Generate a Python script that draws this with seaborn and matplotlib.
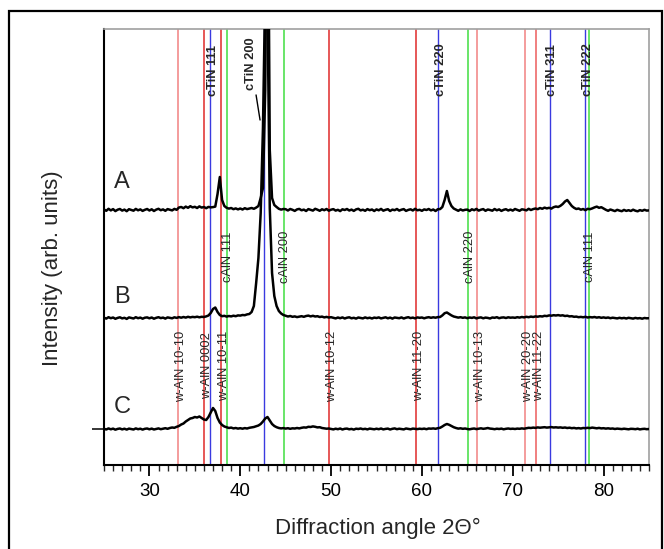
import numpy as np
import pandas as pd
import matplotlib
matplotlib.use("Agg")
import matplotlib.pyplot as plt
from matplotlib.patches import Rectangle
import seaborn as sns

# ---------------- data ----------------
angle_start, angle_stop, n_points = 25.0, 85.0, 241   # 0.25 deg steps

intensity_A = [
    0.5,-0.8,1.2,-0.4,0.9,-1.1,0.3,1.0,-0.6,0.4,-1.2,0.8,0.1,-0.7,1.1,-0.3,0.6,-0.9,0.2,1.0,
    -0.5,0.7,-1.0,0.4,1.2,-0.2,0.6,-0.8,0.9,0.3,-0.4,1.1,0.2,2.5,3.0,1.8,3.4,2.2,3.8,2.6,
    3.2,2.0,3.6,2.4,3.0,1.8,3.1,2.6,2.9,3.4,16.0,33.0,10.0,4.0,2.2,1.4,2.0,0.8,1.6,0.6,
    1.5,0.5,1.8,0.9,1.4,2.0,1.2,2.4,4.0,12.0,22.0,120.0,420.0,60.0,12.0,5.0,3.0,1.2,0.4,1.0,
    0.8,-0.5,1.0,0.2,-0.9,0.6,1.1,-0.3,0.4,-1.0,0.9,0.1,-0.6,1.2,0.3,-0.8,0.7,-0.2,1.0,-0.7,
    0.3,0.9,-0.6,0.2,-1.1,0.7,0.0,1.0,-0.5,0.4,-0.9,0.6,1.2,-0.4,0.3,-0.8,0.9,-0.2,0.5,-1.0,
    0.6,-0.3,1.1,-0.7,0.2,0.8,-1.0,0.4,-0.2,1.0,-0.6,0.3,0.9,-0.9,0.1,0.7,-0.5,1.2,-0.3,0.2,
    -0.8,0.6,0.0,1.0,-0.4,0.5,-1.0,0.8,0.9,3.0,10.0,19.0,9.0,4.0,1.5,0.3,-0.8,0.6,-0.5,0.2,
    0.4,-1.0,0.7,-0.2,1.1,-0.6,0.3,0.9,-0.8,0.5,0.0,-0.7,1.0,-0.3,0.6,-0.9,0.2,0.8,-0.5,0.4,
    -0.6,1.0,0.1,-0.8,0.7,0.3,-0.4,1.2,0.0,0.9,1.5,0.8,2.0,1.2,2.4,1.6,2.2,1.4,2.8,3.5,
    3.0,4.2,6.0,8.5,10.0,7.0,4.0,2.2,1.0,1.5,0.3,1.0,-0.2,1.2,0.8,1.6,2.6,3.4,2.2,2.8,
    1.5,0.2,-0.8,0.5,-0.3,-1.1,0.2,-0.6,-1.2,0.1,-0.9,-0.2,-1.0,0.3,-0.7,-1.3,-0.1,-0.8,0.2,-0.6,
    -0.4,
]

intensity_B = [
    0.3,-0.6,0.8,-0.2,0.5,-0.8,0.1,0.7,-0.4,0.2,-0.9,0.6,0.0,-0.5,0.8,-0.2,0.4,-0.7,0.3,0.6,
    -0.3,0.5,-0.7,0.2,0.8,-0.1,0.4,-0.6,0.6,0.2,-0.3,0.7,0.1,0.9,0.3,1.0,0.4,1.2,0.6,1.1,
    0.8,1.3,0.7,1.2,1.0,1.6,2.5,5.0,9.0,10.5,6.0,3.0,1.8,2.2,1.4,2.0,1.6,2.3,1.8,2.6,
    2.4,3.0,2.8,3.6,4.0,6.0,12.0,35.0,60.0,105.0,190.0,330.0,310.0,110.0,45.0,22.0,12.0,7.0,4.5,3.0,
    2.2,1.5,2.0,1.2,1.6,0.9,1.4,1.8,1.2,2.0,2.4,1.6,2.2,1.5,1.8,1.0,1.4,0.6,1.1,0.5,
    0.8,0.2,-0.4,0.5,-0.2,0.6,-0.5,0.3,0.7,-0.3,0.2,-0.6,0.5,0.1,-0.4,0.6,-0.2,0.3,-0.5,0.4,
    0.0,0.6,-0.4,0.2,0.7,-0.3,0.4,-0.6,0.5,0.1,-0.2,0.6,-0.5,0.3,0.8,-0.1,0.4,-0.4,0.6,0.2,
    0.5,-0.3,0.4,0.8,0.2,0.7,0.3,0.9,1.0,2.6,4.8,5.5,4.0,2.6,1.5,1.0,0.4,0.8,0.2,0.6,
    -0.2,0.5,0.1,0.7,-0.4,0.3,0.6,-0.3,0.4,0.1,-0.5,0.5,0.2,0.8,-0.2,0.4,0.6,0.0,0.7,0.3,
    0.5,0.2,0.8,0.4,1.0,0.6,1.2,0.8,1.4,1.0,1.6,1.3,1.8,1.5,2.2,1.9,2.6,2.3,2.8,2.5,
    2.9,2.4,2.7,2.0,2.3,1.6,1.8,1.2,1.4,0.8,1.1,0.7,1.2,0.5,0.9,0.6,1.0,0.4,0.8,0.2,
    0.6,0.1,0.5,-0.2,0.3,0.0,-0.4,0.2,-0.3,0.1,-0.5,0.2,-0.2,-0.6,0.1,-0.4,-0.1,-0.7,0.0,-0.3,
    -0.2,
]

intensity_C = [
    0.2,-0.5,0.6,-0.3,0.4,-0.7,0.1,0.5,-0.4,0.3,-0.6,0.4,0.0,-0.5,0.6,-0.2,0.3,-0.6,0.2,0.5,
    -0.3,0.4,-0.5,0.1,0.6,-0.2,0.3,0.8,0.2,1.0,1.5,1.2,2.2,3.0,4.5,5.5,7.5,9.0,10.5,11.0,
    12.0,11.5,12.5,11.0,9.5,9.0,12.0,16.5,21.0,18.0,11.0,6.5,4.0,2.5,1.8,1.0,1.4,0.6,1.0,0.4,
    0.8,0.3,0.9,0.5,1.2,1.6,2.0,2.8,3.5,5.0,7.5,10.5,12.0,8.5,5.0,3.0,1.8,1.0,0.6,0.9,
    0.4,0.8,0.2,0.7,0.5,1.0,0.6,1.2,1.6,1.4,2.2,2.0,2.6,2.2,1.6,1.8,1.0,0.6,0.3,0.5,
    0.0,-0.4,0.3,-0.2,0.5,-0.5,0.2,0.4,-0.3,0.1,-0.6,0.3,0.0,0.5,-0.2,0.2,-0.4,0.4,0.1,-0.3,
    0.3,-0.2,0.5,-0.4,0.1,0.4,-0.5,0.2,0.6,-0.2,0.3,0.0,-0.4,0.5,0.1,-0.3,0.4,0.2,-0.1,0.3,
    0.0,0.4,-0.2,0.5,0.3,0.6,0.2,0.8,1.2,2.5,4.0,5.0,4.2,3.0,1.8,1.0,0.4,0.7,0.2,0.5,
    0.0,-0.3,0.2,0.5,-0.1,0.3,0.7,0.2,0.5,1.0,0.4,0.2,-0.2,0.3,0.0,0.4,-0.3,0.2,0.5,0.1,
    0.3,0.0,0.4,0.2,0.6,0.3,0.8,1.2,1.0,1.4,1.1,1.6,1.3,1.5,1.8,1.4,1.6,1.9,1.5,1.7,
    1.4,1.6,1.2,1.5,1.0,1.3,0.8,1.1,0.6,0.9,0.5,1.0,0.8,1.2,0.9,1.4,1.0,0.7,1.1,0.6,
    0.8,0.4,0.7,0.3,0.5,0.0,0.4,0.2,-0.1,0.3,0.0,-0.3,0.2,0.1,-0.2,0.3,-0.4,0.0,0.2,-0.2,
    0.0,
]

samples = ["A", "B", "C"]

wAlN_pos = [33.2, 36.04, 37.92, 49.8, 59.35, 66.05, 71.4, 72.6]
wAlN_labels = ["w-AlN 10-10", "w-AlN 0002", "w-AlN 10-11", "w-AlN 10-12",
               "w-AlN 11-20", "w-AlN 10-13", "w-AlN 20-20", "w-AlN 11-22"]
cTiN_pos = [36.66, 42.6, 61.8, 74.07, 77.96]
cTiN_labels = ["cTiN 111", "cTiN 200", "cTiN 220", "cTiN 311", "cTiN 222"]
cAlN_pos = [38.5, 44.8, 65.1, 78.4]
cAlN_labels = ["cAlN 111", "cAlN 200", "cAlN 220", "cAlN 111"]

# ---------------- styling / layout ----------------
offsets = {"A": 255, "B": 147, "C": 36}
wAlN_colors = ["#f28b8b", "#e23b3b", "#e23b3b", "#e23b3b",
               "#e23b3b", "#f28b8b", "#f28b8b", "#ee6a6a"]
blue = "#3a3ae0"
green = "#4fe04f"

for arr in (intensity_A, intensity_B, intensity_C):
    assert len(arr) == n_points

angles = np.linspace(angle_start, angle_stop, n_points)
frames = []
for name, vals in zip(samples, [intensity_A, intensity_B, intensity_C]):
    frames.append(pd.DataFrame({"angle": angles,
                                "intensity": np.array(vals) + offsets[name],
                                "sample": name}))
df = pd.concat(frames, ignore_index=True)

sns.set_theme(style="white")
plt.rcParams["font.family"] = ["Liberation Sans", "DejaVu Sans"]

fig = plt.figure(figsize=(6.64, 5.49), dpi=100)
ax = fig.add_axes([104/664, 1-465/549, (649-104)/664, (465-29)/549])

# reference lines
for p, c in zip(wAlN_pos, wAlN_colors):
    ax.axvline(p, color=c, lw=1.2, zorder=1)
for p in cTiN_pos:
    ax.axvline(p, color=blue, lw=1.0, zorder=1)
for p in cAlN_pos:
    ax.axvline(p, color=green, lw=1.2, zorder=1)

sns.lineplot(data=df, x="angle", y="intensity", units="sample", estimator=None,
             color="black", lw=1.8, ax=ax, zorder=3, sort=False)

ax.set_xlim(25, 85)
ax.set_ylim(0, 436)

# labels on lines
lab_fs = 9.3
for p, t in zip(cTiN_pos, cTiN_labels):
    if t == "cTiN 200":
        ax.annotate(t, xy=(p - 0.42, 345), xytext=(p - 1.4, 401),
                    rotation=90, ha="center", va="center", fontsize=lab_fs,
                    fontweight="bold", zorder=5,
                    arrowprops=dict(arrowstyle="-", color="black", lw=1.0,
                                    shrinkA=1, shrinkB=0))
    else:
        ax.text(p + 0.3, 395, t, rotation=90, ha="center", va="center",
                fontsize=lab_fs, fontweight="bold", zorder=5)
for p, t in zip(cAlN_pos, cAlN_labels):
    ax.text(p + 0.15, 208, t, rotation=90, ha="center", va="center",
            fontsize=lab_fs, zorder=5)
for p, t in zip(wAlN_pos, wAlN_labels):
    ax.text(p + 0.3, 99, t, rotation=90, ha="center", va="center",
            fontsize=lab_fs, zorder=5)

# sample letters
letter_y = {"A": 283, "B": 168, "C": 58}
for s in samples:
    ax.text(27.0, letter_y[s], s, ha="center", va="center", fontsize=17)

# axes styling
ax.set_xticks([30, 40, 50, 60, 70, 80])
ax.set_xticks(np.arange(25, 86, 1), minor=True)
ax.set_yticks([offsets["C"]])
ax.set_yticklabels([])
ax.tick_params(axis="x", which="major", direction="out", length=8, width=1.3,
               labelsize=13.5, pad=5, colors="black", bottom=True)
ax.tick_params(axis="x", which="minor", direction="out", length=4.5, width=1.0,
               bottom=True)
ax.tick_params(axis="y", which="major", direction="out", length=9, width=1.3,
               left=True)
for side in ["left", "bottom"]:
    ax.spines[side].set_color("black")
    ax.spines[side].set_linewidth(1.5)
for side in ["top", "right"]:
    ax.spines[side].set_color("#a0a0a0")
    ax.spines[side].set_linewidth(1.2)

ax.set_xlabel("Diffraction angle 2Θ°", fontsize=16)
ax.set_ylabel("Intensity (arb. units)", fontsize=16)
ax.xaxis.set_label_coords(0.503, -0.1445)
ax.xaxis.label.set_va("center")
ax.yaxis.set_label_coords(-0.0954, 0.452)
ax.yaxis.label.set_rotation_mode("default")
ax.yaxis.label.set_va("center")
ax.yaxis.label.set_ha("center")

# outer frame of the figure
fig.patches.append(Rectangle((9/664, -0.05), (662-9)/664, 1.05 - 11/549,
                             transform=fig.transFigure, fill=False,
                             edgecolor="black", lw=1.6, zorder=10))

fig.savefig("out.png", dpi=100)
